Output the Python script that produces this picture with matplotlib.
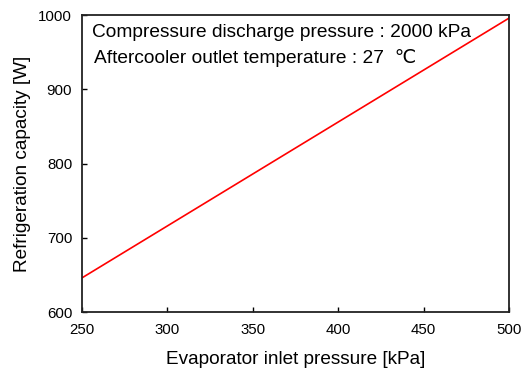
import matplotlib
matplotlib.use("Agg")
import matplotlib.pyplot as plt

plt.rcParams['font.family'] = ['Liberation Sans', 'DejaVu Sans']

pressure = [250, 300, 350, 400, 450, 500]
capacity = [646, 716, 786, 856, 926, 996]
x_ticks = [250, 300, 350, 400, 450, 500]
y_ticks = [600, 700, 800, 900, 1000]

fig = plt.figure(figsize=(5.32, 3.68), dpi=100)
ax = fig.add_axes([0.154, 0.152, 0.803, 0.807])
ax.plot(pressure, capacity, color='#ff0000', linewidth=1.2)
ax.set_xlim(250, 500)
ax.set_ylim(600, 1000)
ax.set_xticks(x_ticks)
ax.set_yticks(y_ticks)
ax.tick_params(direction='in', length=3.5, width=1, labelsize=10.8)
ax.tick_params(axis='x', pad=8)
ax.tick_params(axis='y', pad=7)
for s in ax.spines.values():
    s.set_linewidth(1.3)
    s.set_color('#222222')
ax.set_xlabel('Evaporator inlet pressure [kPa]', fontsize=13.7, labelpad=10)
ax.set_ylabel('Refrigeration capacity [W]', fontsize=13.7, labelpad=5)
ax.text(0.023, 0.926, 'Compressure discharge pressure : 2000 kPa', transform=ax.transAxes,
        fontsize=13.8, va='baseline', ha='left')
ax.text(0.028, 0.838, 'Aftercooler outlet temperature : 27  \u2103', transform=ax.transAxes,
        fontsize=13.8, va='baseline', ha='left')
fig.savefig('out.png', dpi=100)
